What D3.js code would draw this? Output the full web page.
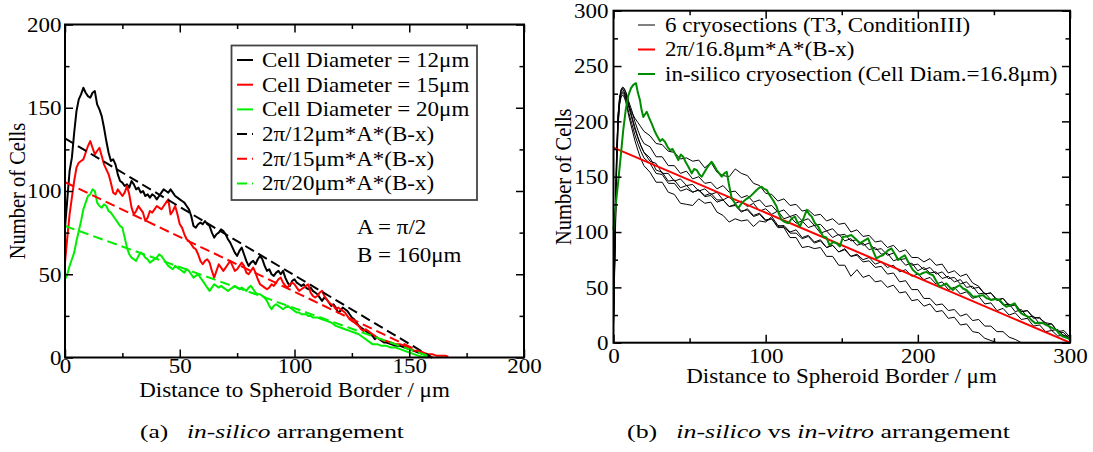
<!DOCTYPE html>
<html><head><meta charset="utf-8">
<script src="https://cdn.jsdelivr.net/npm/d3@7"></script>
<style>
body{margin:0;background:#fff}
svg{display:block}
text{font-family:"Liberation Serif","Times New Roman",serif;fill:#000}
</style>
</head><body>
<svg id="c" width="1093" height="452"></svg>
<script>
// ---------------- DATA ----------------
// Panel (a)
const aXTicks = [0, 50, 100, 150, 200];
const aXMinor = [25, 75, 125, 175];
const aYTicks = [0, 50, 100, 150, 200];
const aYMinor = [25, 75, 125, 175];
const aLegend = ["Cell Diameter = 12\u03bcm", "Cell Diameter = 15\u03bcm", "Cell Diameter = 20\u03bcm",
  "2\u03c0/12\u03bcm*A*(B-x)", "2\u03c0/15\u03bcm*A*(B-x)", "2\u03c0/20\u03bcm*A*(B-x)"];
const aNotes = ["A = \u03c0/2", "B = 160\u03bcm"];

const diam12 = [[0,78],[1,95],[2,112],[3,120],[4,135],[5,148],[6,155],[7,158],[8,162],[9,159],[10,157],[11,156],[12,159],[13,160],[14,152],[15,149],[16,145],[17,138],[18,130],[19,123],[20,118],[21,119],[22,116],[23,110],[24,106],[25,105],[26,103],[27,104],[28,102],[29,106],[30,104],[31,101],[32,102],[33,99],[34,100],[35,97],[36,98],[37,96],[38,98],[39,97],[40,95],[41,97],[42,99],[43,101],[44,100],[45,99],[46,101],[47,99],[48,97],[49,96],[50,95],[51,94],[52,93],[53,91],[54,89],[55,85],[56,79],[57,78],[58,80],[59,81],[60,80],[61,82],[62,80],[63,79],[64,75],[65,72],[66,74],[67,75],[68,77],[69,76],[70,74],[71,71],[72,69],[73,66],[74,63],[75,61],[76,64],[77,66],[78,62],[79,58],[80,55],[81,57],[82,58],[83,56],[84,59],[85,61],[86,59],[87,55],[88,52],[89,53],[90,50],[91,49],[92,51],[93,52],[94,50],[95,52],[96,48],[97,45],[98,43],[99,46],[100,47],[101,45],[102,44],[103,43],[104,44],[105,42],[106,41],[107,42],[108,40],[109,39],[110,38],[111,36],[112,34],[113,36],[114,35],[115,33],[116,31],[117,32],[118,30],[119,27],[120,28],[121,30],[122,29],[123,28],[124,26],[125,24],[126,23],[127,21],[128,19],[129,18],[130,17],[131,16],[132,15],[133,14],[134,13],[135,11],[136,12],[137,11],[138,10],[139,9],[140,9],[142,8],[144,7],[146,7],[148,6],[150,5],[152,4],[154,3],[156,2],[158,1],[160,0]];
const diam15 = [[0,57],[1,72],[2,86],[3,96],[4,106],[5,114],[6,117],[7,118],[8,119],[9,123],[10,127],[11,130],[12,126],[13,122],[14,124],[15,126],[16,121],[17,116],[18,113],[19,110],[20,105],[21,99],[22,98],[23,101],[24,99],[25,97],[26,99],[27,103],[28,98],[29,90],[30,86],[31,88],[32,91],[33,89],[34,87],[35,82],[36,84],[37,88],[38,87],[39,89],[40,91],[41,90],[42,89],[43,91],[44,93],[45,95],[46,86],[47,88],[48,91],[49,86],[50,80],[51,78],[52,74],[53,71],[54,70],[55,68],[56,66],[57,65],[58,62],[59,58],[60,56],[61,58],[62,59],[63,57],[64,52],[65,48],[66,52],[67,56],[68,54],[69,52],[70,54],[71,56],[72,58],[73,55],[74,52],[75,53],[76,55],[77,57],[78,55],[79,51],[80,50],[81,52],[82,54],[83,51],[84,47],[85,44],[86,43],[87,42],[88,41],[89,42],[90,44],[91,43],[92,45],[93,47],[94,48],[95,45],[96,43],[97,42],[98,44],[99,45],[100,44],[101,42],[102,40],[103,41],[104,42],[105,43],[106,44],[107,39],[108,37],[109,36],[110,37],[111,39],[112,40],[113,37],[114,35],[115,33],[116,32],[117,31],[118,29],[119,30],[120,29],[121,28],[122,27],[123,25],[124,23],[125,22],[126,21],[127,20],[128,19],[129,17],[130,16],[131,17],[132,16],[133,15],[134,14],[135,13],[136,12],[137,11],[138,11],[139,10],[140,10],[142,9],[144,8],[146,8],[148,7],[150,6],[152,4],[154,4],[156,3],[158,2],[160,2],[162,1],[164,1],[166,1],[167,0.5]];
const diam20 = [[0,47],[1,50],[2,55],[3,59],[4,63],[5,70],[6,76],[7,82],[8,89],[9,93],[10,97],[11,98],[12,101],[13,100],[14,93],[15,91],[16,90],[17,92],[18,91],[19,88],[20,87],[21,85],[22,83],[23,81],[24,79],[25,78],[26,72],[27,66],[28,62],[29,60],[30,59],[31,58],[32,61],[33,63],[34,62],[35,60],[36,59],[37,57],[38,58],[39,59],[40,60],[41,62],[42,61],[43,59],[44,57],[45,55],[46,54],[47,53],[48,55],[49,54],[50,53],[51,52],[52,51],[53,53],[54,52],[55,50],[56,48],[57,49],[58,50],[59,48],[60,46],[61,44],[62,42],[63,40],[64,42],[65,44],[66,43],[67,42],[68,43],[69,42],[70,41],[71,40],[72,41],[73,42],[74,43],[75,42],[76,41],[77,42],[78,41],[79,40],[80,42],[81,43],[82,41],[83,39],[84,38],[85,38],[86,37],[87,36],[88,34],[89,31],[90,29],[91,31],[92,32],[93,31],[94,30],[95,29],[96,30],[97,31],[98,30],[99,29],[100,28],[101,27],[102,27],[103,26],[104,26],[105,26],[106,25],[107,25],[108,24],[109,24],[110,24],[112,23],[114,22],[116,21],[118,19],[120,18],[122,17],[124,16],[126,15],[128,14],[130,12],[132,10],[134,8],[136,8],[138,7],[140,7],[142,6],[144,6],[146,5],[148,4],[150,3],[152,2],[154,1],[156,0.5],[158,0]];
const fit12 = [[0,131.6],[160,0]];
const fit15 = [[0,105.3],[160,0]];
const fit20 = [[0,79.0],[160,0]];

// Panel (b)
const bXTicks = [0, 100, 200, 300];
const bXMinor = [50, 150, 250];
const bYTicks = [0, 50, 100, 150, 200, 250, 300];
const bYMinor = [25, 75, 125, 175, 225, 275];
const bLegend = ["6 cryosections (T3, ConditionIII)", "2\u03c0/16.8\u03bcm*A*(B-x)", "in-silico cryosection (Cell Diam.=16.8\u03bcm)"];

const cryoX = [0,1,2,3,4,5,6,7,8,9,10,12,14,16,18,20,24,28,32,36,40,44,48,52,56,60,64,68,72,76,80,84,88,92,96,100,104,108,112,116,120,124,128,132,136,140,144,148,152,156,160,164,168,172,176,180,184,188,192,196,200,204,208,212,216,220,224,228,232,236,240,244,248,252,256,260,264,268,272,276,280,284,288,292,296,300];
const cryo1 = [18,90,160,200,218,225,227,226,222,218, 214,208,203,199,195,191, 187,180,179,173,172, 166,167,164,165,158, 163,154,151,150,157, 153,151,144,142,135, 134,128,130,124,125, 119,120,115,116,110, 112,107,108,100,102, 96,97,91,92,86, 88,82,84,77,77, 73,76,70,71,63, 65,60,62,54,51, 44,45,39,40,33, 34,28,29,23,22, 18,17,10,9,3];
const cryo2 = [15,80,150,195,215,222,224,222,218,212, 205,194,183,174,166,160, 154,145,145,136,134, 126,125,124,130,126, 127,118,115,109,112, 110,111,105,110,109, 114,106,105,99,99, 94,96,90,92,86, 88,82,85,78,80, 75,77,71,73,68, 70,64,66,60,62, 57,59,53,55,48, 50,44,46,40,42, 35,36,29,31,25, 27,21,22,15,16, 10,11,6,7,3];
const cryo3 = [20,100,170,205,220,228,230,229,226,221, 216,205,195,186,178,172, 164,162,153,153,146, 148,142,143,137,139, 134,136,129,132,126, 128,123,126,119,121, 116,119,112,114,108, 110,104,106,99,101, 95,98,92,94,88, 90,84,86,80,81, 74,76,70,72,65, 68,63,64,58,60, 55,57,50,51,44, 45,39,40,34,35, 28,30,23,24,17, 18,11,12,6,6];
const cryo4 = [16,95,165,205,222,229,231,230,227,223, 218,210,200,192,185,180, 177,168,168,160,160, 153,155,148,150,144, 145,139,142,136,137, 131,133,127,129,123, 124,118,120,114,116, 110,112,106,107,101, 103,97,98,92,93, 88,90,84,85,79, 81,75,76,70,71, 66,68,62,64,58, 59,53,55,49,50, 44,45,38,40,34, 35,28,29,22,23, 16,17,10,11,5];
const cryo5 = [17,85,155,198,216,224,226,224,220,214, 208,198,188,180,173,167, 162,153,152,144,144, 137,139,136,138,133, 135,129,129,123,124, 118,121,115,117,111, 112,104,104,95,95, 86,87,85,86,78, 78,70,70,60,66, 59,61,55,56,50, 52,45,46,38,39, 33,35,28,29,22, 23,16,17,10,9, 4,2,0,0,0, 0,0,0,0,0, 0,0,0,0,0];
const cryo6 = [19,95,168,206,221,227,229,227,224,219, 213,203,193,185,178,172, 167,156,154,146,147, 140,142,136,138,132, 133,127,129,123,125, 119,120,114,116,110, 112,105,106,100,102, 95,97,91,93,86, 88,82,84,78,79, 73,74,68,69,62, 63,55,56,48,48, 40,40,34,35,29, 30,24,26,20,21, 15,15,10,10,5, 3,0,0,0,0, 0,0,0,0,0];
const fit168 = [[0,176.2],[300,0]];
const insilico = [[0,102],[1.5,125],[3.2,147],[5,172],[6.4,192],[8,210],[9.7,223],[11.5,230],[13,233],[14.8,234.5],[16,226],[17.4,219],[18.5,210],[19.6,204],[21.8,208.7],[23.5,203],[25.1,198],[26.8,192],[28.4,187.5],[30.6,182],[32,184],[33.8,181.6],[35.5,177],[37.1,174],[38.8,175],[40.4,171],[42.6,165],[44.2,170],[45.8,168],[47.5,163],[49.2,159],[51.4,153],[53,157],[54.7,156],[56.4,152],[58,150],[59.7,154],[61.3,157.6],[63,161],[64.5,163.5],[66.2,160],[67.8,156],[69.5,153],[71.1,150],[72.8,153],[74.4,154.5],[76,142],[77.7,130.5],[79.8,126],[82,121.5],[83.7,125],[85.4,127.5],[87.5,130],[89.7,132],[92,135],[94.1,138],[95.8,140],[97.4,141],[99,139],[100.7,138],[102.3,134],[104,130.5],[105.6,127],[107.2,123],[108.8,116],[110.5,111],[112.7,109],[114.9,108],[117,112],[119.2,114],[120.8,109],[122.5,105],[124.8,112],[127,120],[128.6,116],[130.2,114],[132.4,108],[134.6,104.8],[137.7,96],[140,95],[142,88],[144.4,91],[146.4,90],[148.8,87],[150.8,95.8],[153.2,96],[156.3,97.3],[159,94],[161.8,89.8],[164.5,92],[167.3,94.3],[170,85],[172.7,76.2],[175,78],[177,79],[180,83],[182.6,85.3],[185,80],[187,74.7],[189,77],[191.4,79],[194,72],[196.8,65.7],[199,63],[201.2,61.2],[203.4,63],[205.6,64],[208,62],[210,61],[212,56],[214.3,50.6],[216.5,52],[218.7,53.5],[221,50],[223,47.6],[225,50],[227.5,52],[229.7,49],[231.9,47.6],[234,45],[236.2,41.6],[239.5,42],[242.8,43],[245.5,40],[248.3,38.6],[251,39.5],[253.7,38.6],[256,35],[258.1,32.5],[261,34],[263.6,35.6],[265.8,30],[268,26.6],[270,25],[272.4,23.6],[275,20],[277.1,17.5],[280,18],[282.4,17.5],[284.5,16],[286.7,14.5],[289,13],[291,11.5],[293,8],[295.4,5.5],[298.7,4],[300,3]];

const xTitle = "Distance to Spheroid Border / \u03bcm";
const yTitle = "Number of Cells";

// ---------------- DRAWING ----------------
const svg = d3.select("#c");
const SX = 1.15;   // horizontal stretch of the plot lettering
const FS = 20;

function label(g, x, y, str, anchor, size) {
  return g.append("text")
    .attr("transform", `translate(${x},${y}) scale(${SX},1)`)
    .attr("text-anchor", anchor || "start")
    .style("font-size", (size || FS) + "px")
    .text(str);
}

function axes(g, x, y, xt, xm, yt, ym, xLabOff, yLabGap) {
  const [x0, x1] = x.range();
  const [y0, y1] = y.range();
  const styleAxis = a => { a.attr("font-size", null).attr("font-family", null); a.select(".domain").remove(); a.selectAll("line").attr("stroke-width", 1.5); };
  // bottom
  const b = g.append("g").attr("transform", `translate(0,${y0})`)
    .call(d3.axisBottom(x).tickValues(xt).tickSizeInner(-8).tickSizeOuter(0).tickPadding(0).tickFormat(d3.format("d")));
  styleAxis(b);
  b.selectAll("text").attr("y", xLabOff).attr("dy", null).attr("transform", `scale(${SX},1)`).style("font-size", FS + "px");
  const bm = g.append("g").attr("transform", `translate(0,${y0})`)
    .call(d3.axisBottom(x).tickValues(xm).tickSizeInner(-4.5).tickSizeOuter(0).tickFormat(""));
  styleAxis(bm);
  // top
  const t = g.append("g").attr("transform", `translate(0,${y1})`)
    .call(d3.axisTop(x).tickValues(xt).tickSizeInner(-8).tickSizeOuter(0).tickFormat(""));
  styleAxis(t);
  const tm = g.append("g").attr("transform", `translate(0,${y1})`)
    .call(d3.axisTop(x).tickValues(xm).tickSizeInner(-4.5).tickSizeOuter(0).tickFormat(""));
  styleAxis(tm);
  // left
  const l = g.append("g").attr("transform", `translate(${x0},0)`)
    .call(d3.axisLeft(y).tickValues(yt).tickSizeInner(-8).tickSizeOuter(0).tickPadding(0).tickFormat(d3.format("d")));
  styleAxis(l);
  l.selectAll("text").attr("x", -yLabGap / SX).attr("dy", "0.34em").attr("transform", `scale(${SX},1)`).style("font-size", FS + "px");
  const lm = g.append("g").attr("transform", `translate(${x0},0)`)
    .call(d3.axisLeft(y).tickValues(ym).tickSizeInner(-4.5).tickSizeOuter(0).tickFormat(""));
  styleAxis(lm);
  // right
  const r = g.append("g").attr("transform", `translate(${x1},0)`)
    .call(d3.axisRight(y).tickValues(yt).tickSizeInner(-8).tickSizeOuter(0).tickFormat(""));
  styleAxis(r);
  const rm = g.append("g").attr("transform", `translate(${x1},0)`)
    .call(d3.axisRight(y).tickValues(ym).tickSizeInner(-4.5).tickSizeOuter(0).tickFormat(""));
  styleAxis(rm);
  // frame
  g.append("rect").attr("x", x0).attr("y", y1).attr("width", x1 - x0).attr("height", y0 - y1)
    .attr("fill", "none").attr("stroke", "#000").attr("stroke-width", 2);
}

function yTitleAt(g, x, cy, str) {
  g.append("text")
    .attr("transform", `translate(${x},${cy}) rotate(-90) scale(1,${SX})`)
    .attr("text-anchor", "middle").style("font-size", "20.5px").text(str);
}

// ===== Panel (a) =====
const ga = svg.append("g");
const xa = d3.scaleLinear().domain([0, 200]).range([65, 524]);
const ya = d3.scaleLinear().domain([0, 200]).range([357.5, 24.5]);
const la = d3.line().x(d => xa(d[0])).y(d => ya(d[1]));

const aSeries = [
  {d: diam12, c: "#000", dash: null},
  {d: diam15, c: "#ff0000", dash: null},
  {d: diam20, c: "#00ee00", dash: null},
  {d: fit12, c: "#000", dash: "10,5"},
  {d: fit15, c: "#ff0000", dash: "10,5"},
  {d: fit20, c: "#00ee00", dash: "10,5"}
];
aSeries.forEach(s => {
  ga.append("path").attr("d", la(s.d)).attr("fill", "none").attr("stroke", s.c)
    .attr("stroke-width", 2).attr("stroke-linejoin", "round").attr("stroke-dasharray", s.dash);
});
axes(ga, xa, ya, aXTicks, aXMinor, aYTicks, aYMinor, 15.5, 3.5);

// legend (a)
ga.append("rect").attr("x", 231.5).attr("y", 45.5).attr("width", 245.5).attr("height", 154.5)
  .attr("fill", "#fff").attr("stroke", "#444").attr("stroke-width", 1.8);
aSeries.forEach((s, i) => {
  const yy = 60 + i * 24.7;
  ga.append("line").attr("x1", 237).attr("x2", 253).attr("y1", yy).attr("y2", yy)
    .attr("stroke", s.c).attr("stroke-width", 2).attr("stroke-dasharray", s.dash);
  label(ga, 262, yy + 6.8, aLegend[i]);
});
label(ga, 357, 233.5, aNotes[0]);
label(ga, 357, 261.5, aNotes[1]);
label(ga, 294.5, 397, xTitle, "middle");
yTitleAt(ga, 24.5, 191, yTitle);

// ===== Panel (b) =====
const gb = svg.append("g");
const xb = d3.scaleLinear().domain([0, 300]).range([613.5, 1070]);
const yb = d3.scaleLinear().domain([0, 300]).range([342.7, 10.7]);
const lb = d3.line().x(d => xb(d[0])).y(d => yb(d[1]));

[cryo1, cryo2, cryo3, cryo4, cryo5, cryo6].forEach(c => {
  const pts = cryoX.map((xv, i) => [xv, c[i]]);
  gb.append("path").attr("d", lb(pts)).attr("fill", "none").attr("stroke", "#000")
    .attr("stroke-width", 1).attr("stroke-linejoin", "round");
});
gb.append("path").attr("d", lb(fit168)).attr("fill", "none").attr("stroke", "#ff0000").attr("stroke-width", 2);
gb.append("path").attr("d", lb(insilico)).attr("fill", "none").attr("stroke", "#008c00")
  .attr("stroke-width", 2).attr("stroke-linejoin", "round");
axes(gb, xb, yb, bXTicks, bXMinor, bYTicks, bYMinor, 20, 5);

const bStyles = [{c: "#000", w: 1}, {c: "#ff0000", w: 2}, {c: "#008c00", w: 2}];
bStyles.forEach((s, i) => {
  const yy = 25 + i * 24.5;
  gb.append("line").attr("x1", 638).attr("x2", 655).attr("y1", yy).attr("y2", yy)
    .attr("stroke", s.c).attr("stroke-width", s.w);
  label(gb, 665, yy + 6.5, bLegend[i]);
});
label(gb, 841.5, 382.7, xTitle, "middle");
yTitleAt(gb, 571, 176.7, yTitle);

// ===== Captions =====
function caption(x0, x1, base, parts) {
  const t = svg.append("text").style("font-size", "19px");
  parts.forEach(p => {
    const ts = t.append("tspan").text(p.s);
    if (p.it) ts.style("font-style", "italic");
    if (p.dx) ts.attr("dx", p.dx);
  });
  const bb = t.node().getBBox();
  const k = (x1 - x0) / bb.width;
  t.attr("transform", `translate(${x0 - bb.x * k},${base}) scale(${k},1)`);
}
caption(140, 405, 438, [{s: "(a)"}, {s: "in-silico", it: true, dx: 14}, {s: " arrangement"}]);
caption(627, 1011, 438, [{s: "(b)"}, {s: "in-silico", it: true, dx: 14}, {s: " vs "}, {s: "in-vitro", it: true}, {s: " arrangement"}]);
</script>
</body></html>
